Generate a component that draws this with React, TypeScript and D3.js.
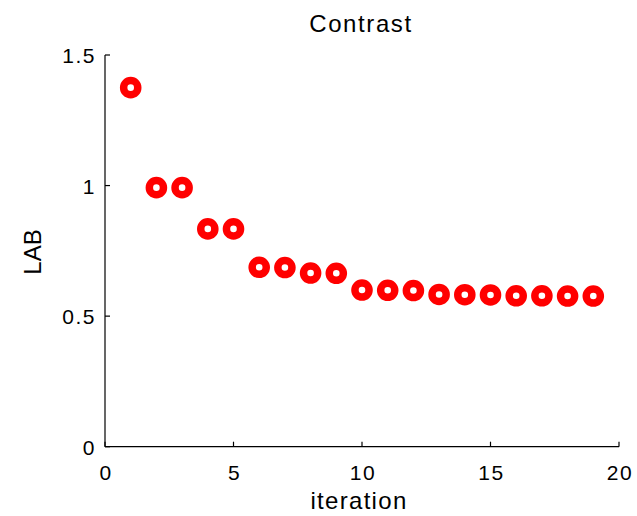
import React from "react";
import * as d3 from "d3";

// Contrast (LAB) measured at each iteration
const iterations = [1, 2, 3, 4, 5, 6, 7, 8, 9, 10, 11, 12, 13, 14, 15, 16, 17, 18, 19];
const labValues = [
  1.375, 0.992, 0.992, 0.834, 0.834, 0.687, 0.686, 0.665, 0.664, 0.6, 0.599, 0.598,
  0.583, 0.582, 0.581, 0.578, 0.578, 0.577, 0.577,
];
const xTicks = [0, 5, 10, 15, 20];
const yTicks = [0, 0.5, 1, 1.5];
const yTickLabels = ["0", "0.5", "1", "1.5"];

const W = 637;
const H = 516;
const font = "'Liberation Sans', Arial, Helvetica, sans-serif";

export default function App() {
  const x = d3.scaleLinear().domain([0, 20]).range([105, 619]);
  const y = d3.scaleLinear().domain([0, 1.5]).range([446.7, 55]);
  const tickLen = 5;

  return (
    <svg
      width={W}
      height={H}
      style={{ position: "absolute", left: 0, top: 0, background: "#fff" }}
      fontFamily={font}
    >
      <text x={361} y={32} fontSize={24} textAnchor="middle" letterSpacing={1.6} fill="#000">
        Contrast
      </text>

      {/* axes */}
      <g stroke="#000" strokeWidth={1.2} fill="none">
        <line x1={x(0)} x2={x(0)} y1={y(0)} y2={y(1.5)} />
        <line x1={x(0)} x2={x(20)} y1={y(0)} y2={y(0)} />
        {xTicks.map((t) => (
          <line key={"xt" + t} x1={x(t)} x2={x(t)} y1={y(0)} y2={y(0) - tickLen} />
        ))}
        {yTicks.map((t) => (
          <line key={"yt" + t} x1={x(0)} x2={x(0) + tickLen} y1={y(t)} y2={y(t)} />
        ))}
      </g>

      {xTicks.map((t) => (
        <text key={"xl" + t} x={x(t) + 1} y={480} fontSize={21} textAnchor="middle" letterSpacing={1.5} fill="#000">
          {t}
        </text>
      ))}
      {yTicks.map((t, i) => (
        <text key={"yl" + t} x={96} y={y(t) + 8} fontSize={21} textAnchor="end" letterSpacing={1.5} fill="#000">
          {yTickLabels[i]}
        </text>
      ))}

      <text x={359} y={509} fontSize={24} textAnchor="middle" letterSpacing={1.3} fill="#000">
        iteration
      </text>
      <text
        transform={`translate(41, 252) rotate(-90)`}
        fontSize={24}
        textAnchor="middle"
        fill="#000"
      >
        LAB
      </text>

      {/* data markers */}
      <g fill="none" stroke="#ff0000" strokeWidth={7.5}>
        {iterations.map((it, i) => (
          <circle key={it} cx={x(it)} cy={y(labValues[i])} r={7.05} />
        ))}
      </g>
    </svg>
  );
}
